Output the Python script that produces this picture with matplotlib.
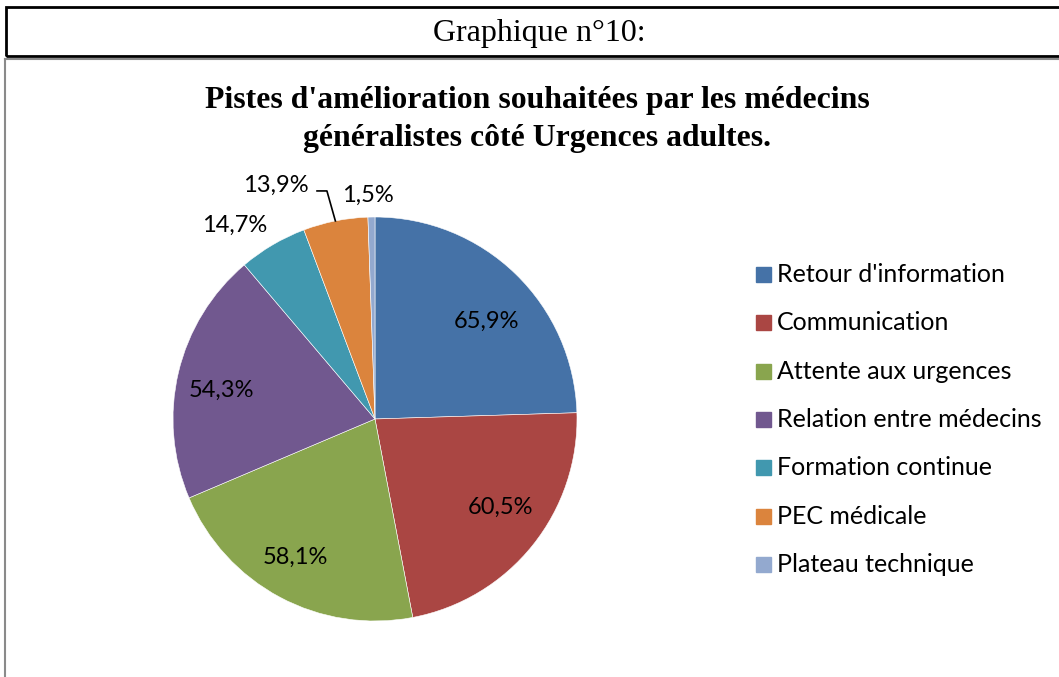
import matplotlib.pyplot as plt
from matplotlib.patches import Rectangle
from matplotlib.lines import Line2D
import numpy as np

# data
categories = ["Retour d'information", "Communication", "Attente aux urgences",
              "Relation entre médecins", "Formation continue", "PEC médicale",
              "Plateau technique"]
values = [65.9, 60.5, 58.1, 54.3, 14.7, 13.9, 1.5]
value_labels = ["65,9%", "60,5%", "58,1%", "54,3%", "14,7%", "13,9%", "1,5%"]

colors = ['#4572A7', '#AA4643', '#89A54E', '#71588F', '#4198AF', '#DB843D', '#93A9CF']

# label placement (pie units, radius = 1)
label_xy = [(0.554, 0.485), (0.619, -0.436), (-0.396, -0.683), (-0.762, 0.144),
            (-0.693, 0.960), (-0.490, 1.158), (-0.035, 1.109)]

W, H = 1059, 677
fig = plt.figure(figsize=(W / 100, H / 100), dpi=100)

def px(x, y):
    # pixel (from top-left) -> figure fraction
    return x / W, 1 - y / H

# header box + chart frame
fig.add_artist(Rectangle(px(6, 56), (W + 10 - 6) / W, 49 / H, transform=fig.transFigure,
                         fill=False, edgecolor='black', lw=2))
fig.add_artist(Line2D([5 / W, 5 / W], [0, 1 - 59 / H], transform=fig.transFigure,
                      color='#8a8a8a', lw=1.5))
fig.add_artist(Line2D([5 / W, 1], [1 - 59 / H, 1 - 59 / H], transform=fig.transFigure,
                      color='#8a8a8a', lw=1.5))
fig.text(*px(539, 41), "Graphique n°10:", ha='center', va='baseline',
         family='Liberation Serif', fontsize=23)

fig.text(*px(537, 119.5), "Pistes d'amélioration souhaitées par les médecins\n"
         "généralistes côté Urgences adultes.", ha='center', va='center',
         family='Liberation Serif', weight='bold', fontsize=22.9, linespacing=1.4)

# pie
cx, cy, r = 375, 419, 202
ax = fig.add_axes([(cx - r) / W, (H - cy - r) / H, 2 * r / W, 2 * r / H])
wedges, _ = ax.pie(values, colors=colors, startangle=90, counterclock=False,
                   radius=1, wedgeprops=dict(edgecolor='white', linewidth=0.4))
ax.set_xlim(-1, 1)
ax.set_ylim(-1, 1)
ax.axis('off')

for (x, y), txt in zip(label_xy, value_labels):
    ax.text(x, y, txt, ha='center', va='center', family='Lato', fontsize=17,
            color='black', clip_on=False)

# leader line for PEC médicale label
w = wedges[5]
mid = np.deg2rad((w.theta1 + w.theta2) / 2)
ax.plot([-0.287, -0.238, np.cos(mid)], [1.129, 1.129, np.sin(mid)],
        color='black', lw=1.2, clip_on=False)

# legend
for i, (lab, col) in enumerate(zip(categories, colors)):
    top = 267 + 48.3 * i
    fig.add_artist(Rectangle(px(756, top + 15), 15 / W, 15 / H,
                             transform=fig.transFigure, color=col))
    fig.text(*px(777, top + 15), lab, ha='left', va='baseline', family='Lato',
             fontsize=18, color='black')

fig.savefig('out.png', dpi=100)
